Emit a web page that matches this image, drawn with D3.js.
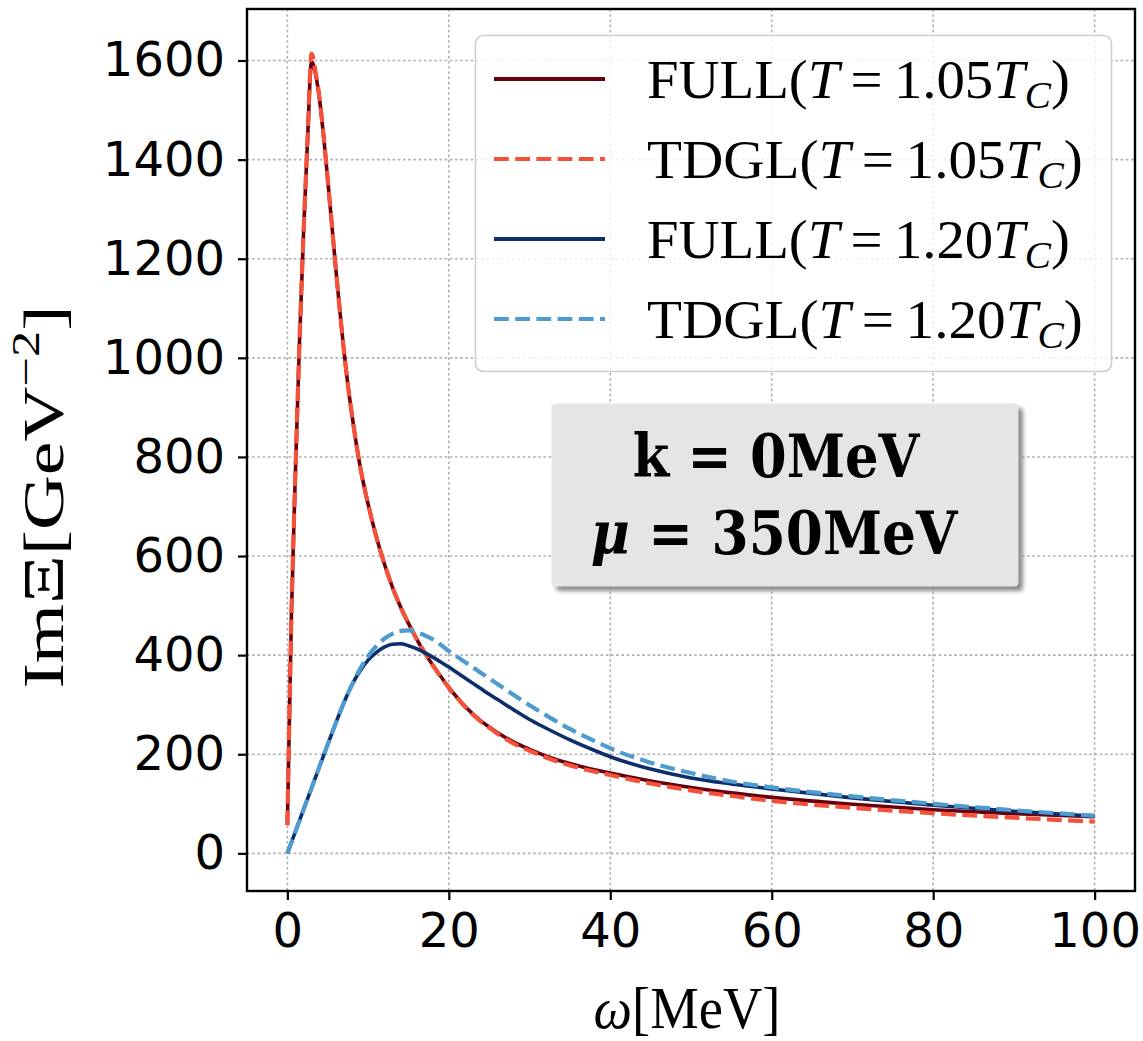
<!DOCTYPE html>
<html>
<head>
<meta charset="utf-8">
<script src="https://cdn.jsdelivr.net/npm/d3@7"></script>
<style>
  body { margin: 0; background: #fff; }
  svg { display: block; }
</style>
</head>
<body>
<svg id="chart" width="1143" height="1041"></svg>
<script>
// Spectral function Im Xi versus frequency omega, FULL vs TDGL, two temperatures
const omega105 = [0, 0.5, 1, 1.5, 2, 2.5, 3, 3.5, 4, 4.5, 5, 5.5, 6, 6.5, 7, 7.5, 8, 8.5, 9,
  10, 11, 12, 13, 14, 15, 16, 17, 18, 19, 20, 21, 22, 23, 24, 25, 26,
  28, 30, 33, 36, 40, 45, 50, 55, 60, 70, 80, 90, 100];
const full105 = [57, 480, 770, 1030, 1250, 1440, 1598, 1572, 1520, 1445, 1360, 1270, 1180, 1095, 1015, 945, 885, 830, 782,
  705, 640, 585, 538, 498, 464, 433, 405, 380, 357, 335, 315, 297, 281, 267, 255, 244,
  225, 210, 191, 177, 162, 146, 133, 122, 113, 99, 88, 80, 74];
const tdgl105 = [57, 480, 770, 1030, 1250, 1442, 1614, 1576, 1522, 1446, 1360, 1270, 1180, 1095, 1015, 945, 885, 830, 782,
  705, 640, 585, 538, 498, 464, 433, 405, 380, 356, 334, 314, 296, 280, 266, 254, 242,
  222, 207, 188, 173, 158, 141, 127, 116, 106, 92, 81, 72, 64];

const omega120 = [0, 1, 2, 3, 4, 5, 6, 7, 8, 9, 10, 11, 12, 13, 14, 15, 16, 17, 18, 19, 20, 21, 22, 23, 24, 25, 26,
  28, 30, 32, 35, 38, 40, 45, 50, 55, 60, 70, 80, 90, 100];
const full120 = [0, 44, 88, 132, 176, 220, 263, 304, 340, 368, 390, 405, 416, 422, 423, 419, 413, 405, 396, 386, 376, 365, 354, 343, 332, 321, 311,
  290, 270, 253, 229, 208, 195, 170, 152, 140, 130, 112, 97, 85, 75];
const tdgl120 = [0, 44, 88, 132, 176, 220, 263, 304, 340, 372, 398, 418, 433, 443, 449, 450, 446, 440, 432, 421, 408, 397, 386, 375, 364, 353, 342,
  320, 299, 279, 251, 227, 212, 183, 162, 145, 133, 115, 100, 87, 76];

const xTicks = [0, 20, 40, 60, 80, 100];
const yTicks = [0, 200, 400, 600, 800, 1000, 1200, 1400, 1600];

const seriesNames = ["FULL", "TDGL", "FULL", "TDGL"];
const seriesTemps = ["1.05", "1.05", "1.20", "1.20"];
const seriesColors = ["#67000d", "#f5503a", "#0c2f6b", "#4e9bcf"];
const seriesDashed = [false, true, false, true];

const annotationLines = ["k = 0MeV", "350MeV"];

// ---------------------------------------------------------------------------
const svg = d3.select("#chart");
const plot = { left: 247, right: 1135, top: 9, bottom: 891 };

const x = d3.scaleLinear().domain([-5, 105]).range([plot.left, plot.right]);
const y = d3.scaleLinear().domain([-76, 1704]).range([plot.bottom, plot.top]);

const defs = svg.append("defs");
defs.append("clipPath").attr("id", "plotClip")
  .append("rect")
  .attr("x", plot.left).attr("y", plot.top)
  .attr("width", plot.right - plot.left).attr("height", plot.bottom - plot.top);
const blur = defs.append("filter").attr("id", "shadowBlur")
  .attr("x", "-10%").attr("y", "-10%").attr("width", "120%").attr("height", "120%");
blur.append("feGaussianBlur").attr("stdDeviation", 2);

// stretch a text element horizontally to a given width about an anchor x
function fitWidth(sel, target, ax) {
  const w = sel.node().getBBox().width;
  const s = target / w;
  sel.attr("transform", `translate(${ax},0) scale(${s},1) translate(${-ax},0)`);
}

// grid
const grid = svg.append("g").attr("class", "grid")
  .attr("stroke", "#b0b0b0").attr("stroke-width", 1.6).attr("stroke-dasharray", "2.6,2.6");
grid.selectAll("line.gx").data(xTicks).join("line").attr("class", "gx")
  .attr("x1", d => x(d)).attr("x2", d => x(d))
  .attr("y1", plot.top).attr("y2", plot.bottom);
grid.selectAll("line.gy").data(yTicks).join("line").attr("class", "gy")
  .attr("y1", d => y(d)).attr("y2", d => y(d))
  .attr("x1", plot.left).attr("x2", plot.right);

// curves
const series = [
  { xs: omega105, ys: full105 },
  { xs: omega105, ys: tdgl105 },
  { xs: omega120, ys: full120 },
  { xs: omega120, ys: tdgl120 }
];
const line = d3.line().x(d => x(d[0])).y(d => y(d[1])).curve(d3.curveMonotoneX);
const curves = svg.append("g").attr("clip-path", "url(#plotClip)");
series.forEach((s, i) => {
  const pts = s.xs.map((w, k) => [w, s.ys[k]]);
  curves.append("path")
    .datum(pts)
    .attr("d", line)
    .attr("fill", "none")
    .attr("stroke", seriesColors[i])
    .attr("stroke-width", seriesDashed[i] ? 4.2 : 3.6)
    .attr("stroke-dasharray", seriesDashed[i] ? "14.8,6.4" : null)
    .attr("stroke-linejoin", "round");
});

// axes
const tickFont = "'DejaVu Sans', sans-serif";
const xAxis = svg.append("g").attr("transform", `translate(0,${plot.bottom})`)
  .call(d3.axisBottom(x).tickValues(xTicks).tickSize(9).tickPadding(13).tickFormat(d3.format("d")));
const yAxis = svg.append("g").attr("transform", `translate(${plot.left},0)`)
  .call(d3.axisLeft(y).tickValues(yTicks).tickSize(9).tickPadding(13).tickFormat(d3.format("d")));
[xAxis, yAxis].forEach(a => {
  a.select(".domain").remove();
  a.selectAll(".tick line").attr("stroke", "#000").attr("stroke-width", 2.2);
  a.selectAll(".tick text").attr("fill", "#000")
    .style("font-family", tickFont).style("font-size", "48px");
});

// frame
svg.append("rect")
  .attr("x", plot.left).attr("y", plot.top)
  .attr("width", plot.right - plot.left).attr("height", plot.bottom - plot.top)
  .attr("fill", "none").attr("stroke", "#000").attr("stroke-width", 2.4);

// axis labels
const serif = "'Liberation Serif', 'Times New Roman', serif";
const xLabel = svg.append("text")
  .attr("x", 687).attr("y", 1028)
  .attr("text-anchor", "middle")
  .style("font-family", serif).style("font-size", "60px");
xLabel.append("tspan").style("font-style", "italic").text("ω");
xLabel.append("tspan").text("[MeV]");
fitWidth(xLabel, 187, 687);

const yLabelG = svg.append("g").attr("transform", "translate(63,497) rotate(-90)");
const yLabel = yLabelG.append("text")
  .attr("x", 0).attr("y", 0)
  .attr("text-anchor", "middle")
  .style("font-family", serif).style("font-size", "58px");
yLabel.append("tspan").text("ImΞ[GeV");
yLabel.append("tspan").attr("dy", -24).style("font-size", "40px").text("−2");
yLabel.append("tspan").attr("dy", 24).text("]");
fitWidth(yLabel, 383, 0);

// legend
const legend = svg.append("g");
legend.append("rect")
  .attr("x", 475.5).attr("y", 35.5).attr("width", 636).attr("height", 336)
  .attr("rx", 8).attr("ry", 8)
  .attr("fill", "#fff").attr("fill-opacity", 0.8)
  .attr("stroke", "#cfcfcf").attr("stroke-width", 1.6);
const legendRowY = [79, 159, 239, 319];
const legendWidths = [423, 436, 423, 436];
seriesNames.forEach((name, i) => {
  const ly = legendRowY[i];
  legend.append("line")
    .attr("x1", 494).attr("x2", 605).attr("y1", ly).attr("y2", ly)
    .attr("stroke", seriesColors[i])
    .attr("stroke-width", seriesDashed[i] ? 4.2 : 3.8)
    .attr("stroke-dasharray", seriesDashed[i] ? "14.8,6.4" : null);
  const t = legend.append("text")
    .attr("x", 647).attr("y", ly + 19)
    .style("font-family", serif).style("font-size", "55px").attr("fill", "#000");
  t.append("tspan").text(name + "(");
  t.append("tspan").style("font-style", "italic").text("T");
  t.append("tspan").text("\u2009=\u2009" + seriesTemps[i]);
  t.append("tspan").style("font-style", "italic").text("T");
  t.append("tspan").attr("dy", 10).style("font-style", "italic").style("font-size", "38px").text("C");
  t.append("tspan").attr("dy", -10).text(")");
  fitWidth(t, legendWidths[i], 647);
});

// parameter box
const box = svg.append("g");
box.append("rect")
  .attr("x", 556).attr("y", 408).attr("width", 467).attr("height", 183)
  .attr("rx", 4).attr("fill", "#8c8c8c").attr("filter", "url(#shadowBlur)");
box.append("rect")
  .attr("x", 551.5).attr("y", 403.5).attr("width", 467).attr("height", 183)
  .attr("rx", 4).attr("fill", "#e5e5e5");
const boldSerif = "'DejaVu Serif', serif";
const l1 = box.append("text")
  .attr("x", 776).attr("y", 477).attr("text-anchor", "middle")
  .style("font-family", boldSerif).style("font-weight", "bold").style("font-size", "60px")
  .text(annotationLines[0]);
fitWidth(l1, 288, 776);
const l2 = box.append("text")
  .attr("x", 774).attr("y", 554).attr("text-anchor", "middle")
  .style("font-family", boldSerif).style("font-weight", "bold").style("font-size", "60px");
l2.append("tspan").style("font-style", "italic").text("μ");
l2.append("tspan").text(" = " + annotationLines[1]);
fitWidth(l2, 368, 774);
</script>
</body>
</html>
